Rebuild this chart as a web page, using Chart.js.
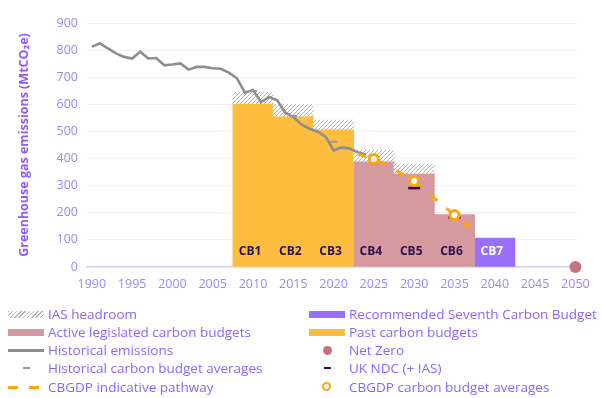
<!DOCTYPE html>
<html>
<head>
<meta charset="utf-8">
<script src="https://cdn.jsdelivr.net/npm/chart.js@4.4.1/dist/chart.umd.min.js"></script>
<style>
  body { margin: 0; background: #fff; }
  #wrap { position: relative; width: 602px; height: 398px; font-family: "Open Sans", sans-serif; }
  #chart { position: absolute; left: 0; top: 0; }
  .lg { position: absolute; height: 18px; line-height: 18px; font-size: 13.5px; color: #8c66f6; white-space: nowrap; }
  .sym { position: absolute; }
</style>
</head>
<body>
<div id="wrap">
  <canvas id="chart" width="602" height="398"></canvas>
  <div id="legend"></div>
</div>
<script>
// ---- data ----
const histYears = [1990, 1991, 1992, 1993, 1994, 1995, 1996, 1997, 1998, 1999,
  2000, 2001, 2002, 2003, 2004, 2005, 2006, 2007, 2008, 2009,
  2010, 2011, 2012, 2013, 2014, 2015, 2016, 2017, 2018, 2019,
  2020, 2021, 2022, 2023, 2024];
const histEmissions = [812, 825, 806, 788, 775, 769, 794, 769, 771, 744,
  747, 751, 728, 738, 738, 733, 731, 717, 696, 643,
  653, 608, 627, 615, 569, 554, 526, 510, 500, 481,
  430, 441, 437, 423, 414];

const budgetYears = [2010, 2015, 2020, 2025, 2030, 2035, 2040];
const budgetLabels = ['CB1', 'CB2', 'CB3', 'CB4', 'CB5', 'CB6', 'CB7'];
const pastBudgets = [603.6, 556.4, 508.8, null, null, null, null];
const activeBudgets = [null, null, null, 390, 345, 193, null];
const recommendedBudget = [null, null, null, null, null, null, 107];
const iasTop = [645, 600, 542, 430, 381, null, null];

const histAvgYears = [2010, 2015, 2020];
const histAvgValues = [649, 557, 462];

const ndcYears = [2030, 2035];
const ndcValues = [291, 183];

const pathwayYears = [2023, 2024, 2025, 2026, 2027, 2028, 2029, 2030, 2031, 2032, 2033, 2034, 2035, 2036, 2037];
const pathwayValues = [417, 406, 396, 385, 371, 352, 333, 312, 290, 266, 241, 216, 193, 167, 143];

const cbgdpYears = [2025, 2030, 2035];
const cbgdpValues = [398, 317, 192];

const netZeroYear = 2050;
const netZeroValue = 0;

const yearTicks = [1990, 1995, 2000, 2005, 2010, 2015, 2020, 2025, 2030, 2035, 2040, 2045, 2050];

// ---- helpers ----
const pts = (xs, ys) => xs.map((x, i) => ({ x: x, y: ys[i] })).filter(p => p.y !== null);

function hatchPattern() {
  const c = document.createElement('canvas');
  c.width = 4; c.height = 4;
  const g = c.getContext('2d');
  g.fillStyle = '#ffffff';
  g.fillRect(0, 0, 4, 4);
  g.strokeStyle = '#b4b4b4';
  g.lineWidth = 1;
  g.beginPath();
  g.moveTo(0, 4); g.lineTo(4, 0);
  g.moveTo(-1, 1); g.lineTo(1, -1);
  g.moveTo(3, 5); g.lineTo(5, 3);
  g.stroke();
  return g.createPattern(c, 'repeat');
}

const ORANGE = '#fdbe3f', PINK = '#d5999f', PURPLE = '#9a6ffb';
const LINE_GREY = '#8e8e8e', PATH_ORANGE = '#fca70a', NDC = '#2e1050', NZ = '#c7737b';
const TICK = '#9f86f6', TITLE = '#8c5df6';

const cbLabelPlugin = {
  id: 'cbLabels',
  afterDatasetsDraw(chart) {
    const ctx = chart.ctx;
    const xs = chart.scales.x, ys = chart.scales.y;
    ctx.save();
    ctx.font = 'bold 12px "Open Sans", sans-serif';
    ctx.textAlign = 'center';
    ctx.textBaseline = 'middle';
    budgetYears.forEach((yr, i) => {
      ctx.fillStyle = i === 6 ? '#ffffff' : NDC;
      ctx.fillText(budgetLabels[i], xs.getPixelForValue(yr) - 3, ys.getPixelForValue(0) - 15);
    });
    ctx.restore();
  }
};

const barCommon = { type: 'bar', grouped: false, barPercentage: 1, categoryPercentage: 1, borderWidth: 0 };

new Chart(document.getElementById('chart'), {
  data: {
    datasets: [
      Object.assign({ label: 'Past carbon budgets', data: pts(budgetYears, pastBudgets), backgroundColor: ORANGE, order: 10 }, barCommon),
      Object.assign({ label: 'Active legislated carbon budgets', data: pts(budgetYears, activeBudgets), backgroundColor: PINK, order: 10 }, barCommon),
      Object.assign({ label: 'Recommended Seventh Carbon Budget', data: pts(budgetYears, recommendedBudget), backgroundColor: PURPLE, order: 10 }, barCommon),
      Object.assign({
        label: 'IAS headroom',
        data: budgetYears.map((x, i) => iasTop[i] === null ? null : { x: x, y: [pastBudgets[i] ?? activeBudgets[i], iasTop[i]] }).filter(Boolean),
        backgroundColor: hatchPattern(), order: 9
      }, barCommon),
      {
        type: 'line', label: 'Historical emissions', data: pts(histYears, histEmissions),
        borderColor: LINE_GREY, borderWidth: 2.6, pointRadius: 0, tension: 0, order: 4
      },
      {
        type: 'line', label: 'Historical carbon budget averages', data: pts(histAvgYears, histAvgValues),
        showLine: false, pointStyle: 'line', pointRadius: 4, borderColor: '#9a9a9a', borderWidth: 2, order: 3
      },
      {
        type: 'line', label: 'CBGDP indicative pathway', data: pts(pathwayYears, pathwayValues),
        borderColor: PATH_ORANGE, borderWidth: 3, borderDash: [9, 12], pointRadius: 0, tension: 0.2, order: 2
      },
      {
        type: 'line', label: 'UK NDC (+ IAS)', data: pts(ndcYears, ndcValues),
        showLine: false, pointStyle: 'line', pointRadius: 6, borderColor: NDC, borderWidth: 2.5, order: 1
      },
      {
        type: 'line', label: 'CBGDP carbon budget averages', data: pts(cbgdpYears, cbgdpValues),
        showLine: false, pointRadius: 4.5, pointBackgroundColor: '#ffffff', pointBorderColor: PATH_ORANGE, pointBorderWidth: 3, order: 0
      },
      {
        type: 'line', label: 'Net Zero', data: [{ x: netZeroYear, y: netZeroValue }],
        showLine: false, pointRadius: 6, pointBackgroundColor: NZ, pointBorderWidth: 0, clip: false, order: 0
      }
    ]
  },
  options: {
    responsive: false,
    animation: false,
    devicePixelRatio: 1,
    layout: { padding: { top: 23, right: 25, left: 0, bottom: 0 } },
    plugins: { legend: { display: false }, tooltip: { enabled: false } },
    scales: {
      x: {
        type: 'linear', min: 1989.4, max: 2050.2, offset: false,
        afterBuildTicks: s => { s.ticks = yearTicks.map(v => ({ value: v })); },
        afterFit: s => { s.height = 131; },
        grid: { display: false, drawTicks: false, offset: false },
        border: { color: '#d9cffc', width: 1.5 },
        ticks: { autoSkip: false, maxRotation: 0, padding: 10, color: TICK, font: { family: 'Open Sans', size: 12.5 }, callback: v => String(v) }
      },
      y: {
        min: 0, max: 900,
        afterFit: s => { s.width = 87; },
        grid: { color: '#f1f1f1', drawTicks: false },
        border: { display: false },
        ticks: { stepSize: 100, padding: 9, color: TICK, font: { family: 'Open Sans', size: 12.5 } },
        title: {
          display: true, text: 'Greenhouse gas emissions (MtCO₂e)', color: TITLE,
          font: { family: 'Open Sans', size: 12.5, weight: 'bold' }, padding: { top: 17, bottom: 0 }
        }
      }
    }
  },
  plugins: [cbLabelPlugin]
});

// ---- legend (two columns) ----
const legendRows = [
  [{ text: 'IAS headroom', sym: 'hatch' }, { text: 'Recommended Seventh Carbon Budget', sym: 'rect', color: PURPLE }],
  [{ text: 'Active legislated carbon budgets', sym: 'rect', color: PINK }, { text: 'Past carbon budgets', sym: 'rect', color: ORANGE }],
  [{ text: 'Historical emissions', sym: 'line', color: LINE_GREY }, { text: 'Net Zero', sym: 'dot', color: NZ }],
  [{ text: 'Historical carbon budget averages', sym: 'dash', color: '#9a9a9a' }, { text: 'UK NDC (+ IAS)', sym: 'dash', color: NDC }],
  [{ text: 'CBGDP indicative pathway', sym: 'dashed', color: PATH_ORANGE }, { text: 'CBGDP carbon budget averages', sym: 'ring', color: PATH_ORANGE }]
];
const rowY = [314, 332, 350, 368, 387];
const colSym = [8, 309], colText = [48, 349], symW = 36;
const lg = document.getElementById('legend');

function addBox(x, y, w, h, css) {
  const d = document.createElement('div');
  d.className = 'sym';
  d.style.cssText = `left:${x}px;top:${y}px;width:${w}px;height:${h}px;` + css;
  lg.appendChild(d);
}

legendRows.forEach((row, r) => {
  row.forEach((item, c) => {
    const cy = rowY[r], sx = colSym[c], mid = sx + symW / 2;
    if (item.sym === 'hatch') addBox(sx, cy - 3.5, symW, 7, 'background:repeating-linear-gradient(135deg,#b4b4b4 0 1px,#fff 1px 3px);');
    if (item.sym === 'rect') addBox(sx, cy - 3.5, symW, 7, `background:${item.color};`);
    if (item.sym === 'line') addBox(sx, cy - 1.5, symW, 3, `background:${item.color};`);
    if (item.sym === 'dash') addBox(mid - 3.5, cy - 1, 7, 2, `background:${item.color};`);
    if (item.sym === 'dashed') {
      addBox(sx, cy - 1.5, 10, 3, `background:${item.color};`);
      addBox(sx + 21, cy - 1.5, 10, 3, `background:${item.color};`);
    }
    if (item.sym === 'dot') addBox(mid - 4.5, cy - 4.5, 9, 9, `background:${item.color};border-radius:50%;`);
    if (item.sym === 'ring') addBox(mid - 5, cy - 5, 5, 5, `border:2.5px solid ${item.color};background:#fff;border-radius:50%;`);
    const t = document.createElement('div');
    t.className = 'lg';
    t.style.left = colText[c] + 'px';
    t.style.top = (cy - 9) + 'px';
    t.textContent = item.text;
    lg.appendChild(t);
  });
});
</script>
</body>
</html>
